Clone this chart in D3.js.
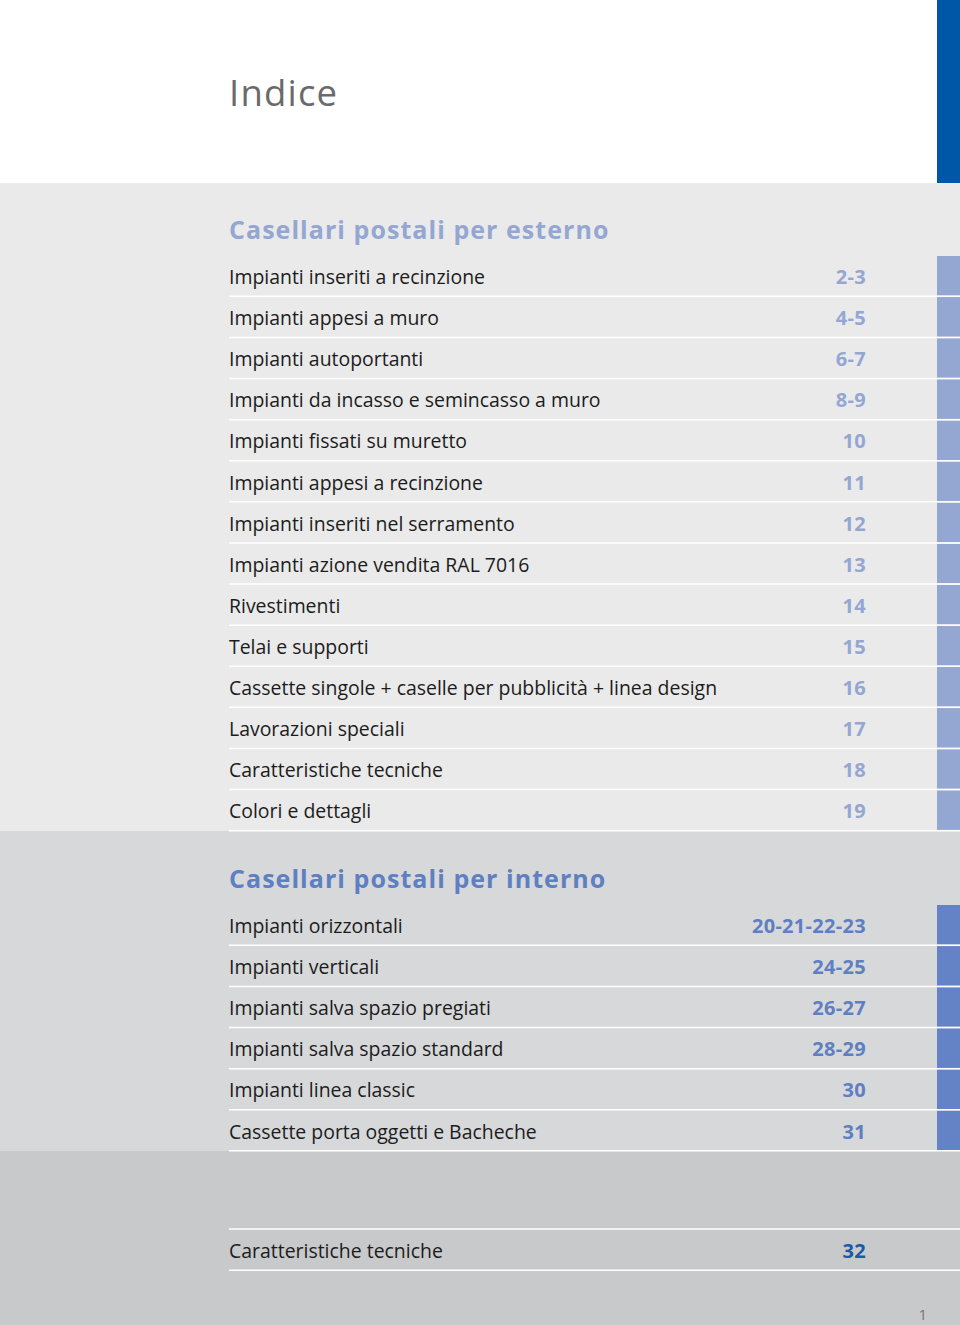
<!DOCTYPE html>
<html><head><meta charset="utf-8">
<script src="https://cdn.jsdelivr.net/npm/d3@7"></script>
<style>html,body{margin:0;padding:0;background:#fff}svg{display:block}</style>
</head><body>
<script>
const title = "Indice";
const section1Title = "Casellari postali per esterno";
const section1Labels = ["Impianti inseriti a recinzione","Impianti appesi a muro","Impianti autoportanti","Impianti da incasso e semincasso a muro","Impianti fissati su muretto","Impianti appesi a recinzione","Impianti inseriti nel serramento","Impianti azione vendita RAL 7016","Rivestimenti","Telai e supporti","Cassette singole + caselle per pubblicità + linea design","Lavorazioni speciali","Caratteristiche tecniche","Colori e dettagli"];
const section1Pages = ["2-3","4-5","6-7","8-9","10","11","12","13","14","15","16","17","18","19"];
const section2Title = "Casellari postali per interno";
const section2Labels = ["Impianti orizzontali","Impianti verticali","Impianti salva spazio pregiati","Impianti salva spazio standard","Impianti linea classic","Cassette porta oggetti e Bacheche"];
const section2Pages = ["20-21-22-23","24-25","26-27","28-29","30","31"];
const section3Labels = ["Caratteristiche tecniche"];
const section3Pages = ["32"];
const pageNumber = "1";

const W = 960, H = 1325;
const svg = d3.select("body").append("svg").attr("width", W).attr("height", H);
const font = "'Open Sans', 'Noto Sans', sans-serif";

const rowH = 41.1;
const x = d3.scaleLinear().domain([0, 1]).range([229, 866]);

const bands = [
  {y0: 0, y1: 183, c: "#ffffff"},
  {y0: 183, y1: 831, c: "#eaeaea"},
  {y0: 831, y1: 1151, c: "#d7d8da"},
  {y0: 1151, y1: 1325, c: "#c8c9cb"}
];
svg.selectAll("rect.band").data(bands).join("rect").attr("class","band")
  .attr("x",0).attr("y",d=>d.y0).attr("width",W).attr("height",d=>d.y1-d.y0).attr("fill",d=>d.c);

svg.append("rect").attr("x",937).attr("y",0).attr("width",23).attr("height",183).attr("fill","#0057a8");

svg.append("text").attr("x",x(0)).attr("y",106).text(title)
  .attr("font-family",font).attr("font-weight",400).attr("font-size",36.5).attr("letter-spacing",1.2).attr("fill","#6a6a6a");

function section(labels, pages, top, headerY, headerText, headColor, pageColor, tabColor) {
  const y = d3.scaleLinear().domain([0, labels.length]).range([top, top + rowH*labels.length]);
  const g = svg.append("g");
  if (headerText) {
    g.append("text").attr("x",x(0)).attr("y",headerY).text(headerText)
      .attr("font-family",font).attr("font-weight",700).attr("font-size",25).attr("letter-spacing",1.05).attr("fill",headColor);
  }
  const idx = d3.range(labels.length);
  if (tabColor) {
    g.selectAll("rect.tab").data(idx).join("rect").attr("class","tab")
      .attr("x",937).attr("y",i=>y(i)).attr("width",23).attr("height",i=>y(i+1)-y(i)-1.5).attr("fill",tabColor);
  }
  g.selectAll("line.sep").data(idx).join("line").attr("class","sep")
    .attr("x1",x(0)).attr("x2",W).attr("y1",i=>y(i+1)-0.75).attr("y2",i=>y(i+1)-0.75)
    .attr("stroke","#ffffff").attr("stroke-width",1.5);
  g.selectAll("text.lab").data(idx).join("text").attr("class","lab")
    .attr("x",x(0)).attr("y",i=>y(i)+28).text(i=>labels[i])
    .attr("font-family",font).attr("font-size",19.45).attr("fill","#1c1c1c");
  g.selectAll("text.pg").data(idx).join("text").attr("class","pg")
    .attr("x",x(1)).attr("y",i=>y(i)+28).attr("text-anchor","end").text(i=>pages[i])
    .attr("font-family",font).attr("font-weight",700).attr("font-size",20).attr("letter-spacing",0.3).attr("fill",pageColor);
  return y;
}

section(section1Labels, section1Pages, 256, 239, section1Title, "#94a7d3", "#94a7d3", "#94a7d3");
section(section2Labels, section2Pages, 905, 888, section2Title, "#5f7fc3", "#5f7fc3", "#6483c6");
svg.append("line").attr("x1",x(0)).attr("x2",W).attr("y1",1229).attr("y2",1229).attr("stroke","#ffffff").attr("stroke-width",1.5);
section(section3Labels, section3Pages, 1230, null, null, null, "#1a5aa6", null);

svg.append("text").attr("x",927).attr("y",1320).attr("text-anchor","end").text(pageNumber)
  .attr("font-family",font).attr("font-size",15).attr("fill","#777");
</script>
</body></html>
